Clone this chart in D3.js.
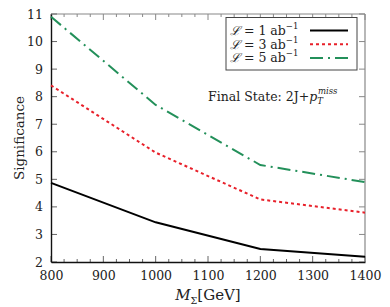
<!DOCTYPE html>
<html>
<head>
<meta charset="utf-8">
<script src="https://cdn.jsdelivr.net/npm/d3@7"></script>
<style>
  body { margin: 0; background: #fff; }
  svg text { font-family: 'DejaVu Serif', serif; fill: #222; }
</style>
</head>
<body>
<svg id="chart" width="390" height="307"></svg>
<script>
// --- Data
const masses = [800, 1000, 1200, 1400];
const lumi1 = [4.87, 3.44, 2.47, 2.19];
const lumi3 = [8.41, 5.97, 4.27, 3.79];
const lumi5 = [10.9, 7.70, 5.52, 4.90];
const yTicks = [2, 3, 4, 5, 6, 7, 8, 9, 10, 11];
const xTicks = [800, 900, 1000, 1100, 1200, 1300, 1400];
const seriesLabels = ['1', '3', '5'];

const series = [
  { lab: seriesLabels[0], vals: lumi1, color: '#000000', dash: null,       width: 2 },
  { lab: seriesLabels[1], vals: lumi3, color: '#e8202a', dash: '3,3',      width: 2 },
  { lab: seriesLabels[2], vals: lumi5, color: '#23905a', dash: '13,5,2,5', width: 2 }
];

const FONT = "'DejaVu Serif', serif";
const svg = d3.select('#chart');
const margin = { l: 51, r: 25, t: 14, b: 45 };
const W = 390, H = 307;

const x = d3.scaleLinear().domain([800, 1400]).range([margin.l, W - margin.r]);
const y = d3.scaleLinear().domain([2, 11]).range([H - margin.b, margin.t]);

// --- Frame (top/right grey)
svg.append('line').attr('x1', x(800)).attr('x2', x(1400)).attr('y1', y(11)).attr('y2', y(11)).attr('stroke', '#888').attr('stroke-width', 1.2);
svg.append('line').attr('x1', x(1400)).attr('x2', x(1400)).attr('y1', y(11)).attr('y2', y(2)).attr('stroke', '#888').attr('stroke-width', 1.2);

// ticks: x minor every 25, major every 100, on bottom and top; y on both sides
const xMinor = d3.range(800, 1401, 25).filter(v => v % 100 !== 0);
const tickG = svg.append('g');
const tick = (x1, y1, x2, y2, c) => tickG.append('line').attr('x1', x1).attr('y1', y1).attr('x2', x2).attr('y2', y2).attr('stroke', c);
xMinor.forEach(v => {
  tick(x(v), y(2), x(v), y(2) - 3, '#666');
  tick(x(v), y(11), x(v), y(11) + 3, '#888');
});
xTicks.forEach(v => {
  tick(x(v), y(2), x(v), y(2) - 6, '#666');
  tick(x(v), y(11), x(v), y(11) + 6, '#888');
});
yTicks.forEach(v => {
  tick(x(800), y(v), x(800) + 6, y(v), '#666');
  tick(x(1400), y(v), x(1400) - 6, y(v), '#888');
});

// axes (labels + left/bottom border)
svg.append('g').attr('transform', `translate(0,${y(2)})`)
  .call(d3.axisBottom(x).tickValues(xTicks).tickSize(0).tickPadding(9).tickFormat(d3.format('d')))
  .attr('font-family', FONT).attr('font-size', 12.5)
  .call(g => g.select('.domain').attr('stroke', '#111').attr('stroke-width', 1.4));

svg.append('g').attr('transform', `translate(${x(800)},0)`)
  .call(d3.axisLeft(y).tickValues(yTicks).tickSize(0).tickPadding(8).tickFormat(d3.format('d')))
  .attr('font-family', FONT).attr('font-size', 12.5)
  .call(g => g.select('.domain').attr('stroke', '#111').attr('stroke-width', 1.4));

// --- Lines
const line = d3.line().x((d, i) => x(masses[i])).y(d => y(d));
series.forEach(s => {
  svg.append('path').datum(s.vals)
    .attr('d', line)
    .attr('fill', 'none')
    .attr('stroke', s.color)
    .attr('stroke-width', s.width)
    .attr('stroke-dasharray', s.dash);
});

// --- Legend
const lg = svg.append('g');
lg.append('rect').attr('x', 226).attr('y', 17.5).attr('width', 131).attr('height', 52.5)
  .attr('fill', '#fff').attr('stroke', '#444').attr('stroke-width', 1);
series.forEach((s, i) => {
  const yy = 30.5 + i * 13.7;
  const t = lg.append('text').attr('x', 230).attr('y', yy + 4.5).attr('font-size', 12.5);
  t.append('tspan').attr('font-style', 'italic').text('ℒ');
  t.append('tspan').text(` = ${s.lab} ab`);
  t.append('tspan').attr('font-size', 8.5).attr('dy', -6).text('−1');
  lg.append('line').attr('x1', 310).attr('x2', 348).attr('y1', yy).attr('y2', yy)
    .attr('stroke', s.color).attr('stroke-width', s.width).attr('stroke-dasharray', s.dash);
});

// --- Annotation
const ann = svg.append('text').attr('x', 208).attr('y', 101).attr('font-size', 12.5);
ann.append('tspan').text('Final State: 2J+');
ann.append('tspan').attr('font-style', 'italic').text('p');
ann.append('tspan').attr('font-style', 'italic').attr('font-size', 8.5).attr('dy', 3).text('T');
ann.append('tspan').attr('font-style', 'italic').attr('font-size', 8.5).attr('dy', -10).attr('dx', -5).text('miss');

// --- Axis titles
svg.append('text').attr('transform', `translate(24,${(y(2) + y(11)) / 2}) rotate(-90)`)
  .attr('text-anchor', 'middle').attr('font-size', 13.5).text('Significance');

const xt = svg.append('text').attr('x', x(1100)).attr('y', 300).attr('text-anchor', 'middle').attr('font-size', 15);
xt.append('tspan').attr('font-style', 'italic').text('M');
xt.append('tspan').attr('font-size', 9.5).attr('dy', 4).text('Σ');
xt.append('tspan').attr('dy', -4).text('[GeV]');
</script>
</body>
</html>
